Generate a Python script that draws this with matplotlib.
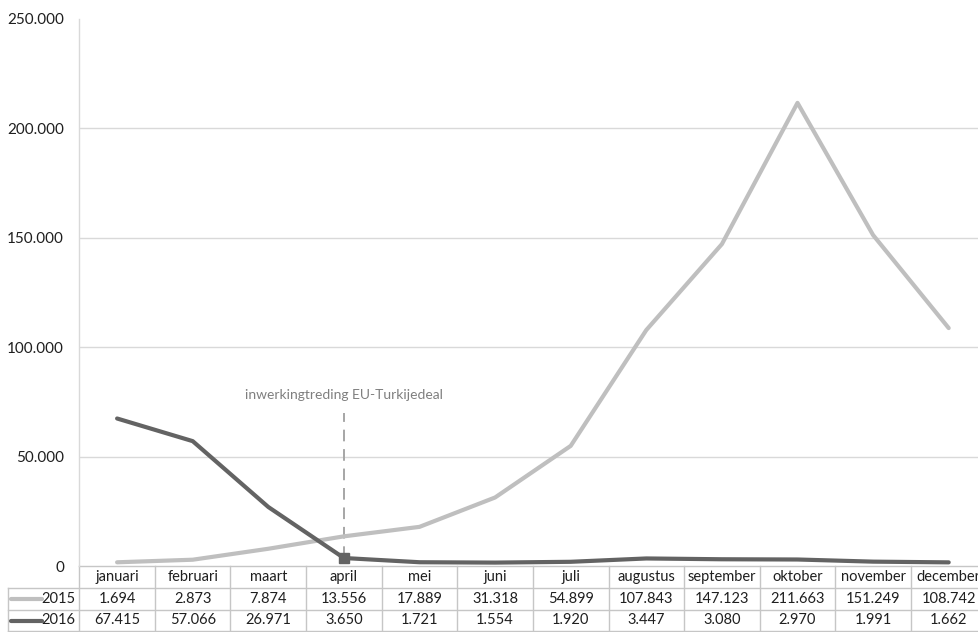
import matplotlib
matplotlib.use("Agg")
import matplotlib.pyplot as plt
import matplotlib.transforms as mtransforms
from matplotlib.ticker import FuncFormatter

plt.rcParams['font.family'] = ['Lato', 'DejaVu Sans']

# Maandelijkse aankomsten
months = ["januari", "februari", "maart", "april", "mei", "juni", "juli",
          "augustus", "september", "oktober", "november", "december"]
series_names = ["2015", "2016"]
arrivals_2015 = [1694, 2873, 7874, 13556, 17889, 31318, 54899,
                 107843, 147123, 211663, 151249, 108742]
arrivals_2016 = [67415, 57066, 26971, 3650, 1721, 1554, 1920,
                 3447, 3080, 2970, 1991, 1662]
y_ticks = [0, 50000, 100000, 150000, 200000, 250000]
deal_month = "april"
deal_label = "inwerkingtreding EU-Turkijedeal"

colors = ["#BFBFBF", "#636363"]
grid_color = "#D9D9D9"
border_color = "#C6C6C6"
text_color = "#1F1F1F"

W, H = 979, 632
fig = plt.figure(figsize=(W / 100, H / 100), dpi=100)

x_left, x_right = 79.3, 986.5
y_zero, y_top = 566, 19
ax = fig.add_axes([x_left / W, (H - y_zero) / H,
                   (x_right - x_left) / W, (y_zero - y_top) / H])

xs = list(range(len(months)))
ax.plot(xs, arrivals_2015, color=colors[0], lw=3.0, solid_joinstyle="round",
        solid_capstyle="round", zorder=3)
ax.plot(xs, arrivals_2016, color=colors[1], lw=3.0, solid_joinstyle="round",
        solid_capstyle="round", zorder=4)

# EU-Turkije deal marker
di = months.index(deal_month)
ax.plot([di], [arrivals_2016[di]], marker="s", ms=6.5, color=colors[1], zorder=5)
ax.vlines(di, arrivals_2016[di], 70000, colors="#A6A6A6", lw=1.4,
          linestyles=(0, (6, 4)), zorder=2)
ax.text(di, 78000, deal_label, ha="center", va="center", fontsize=10,
        color="#7F7F7F")

ax.set_xlim(-0.5, len(months) - 0.5)
ax.set_ylim(0, 250000)
ax.set_yticks(y_ticks)
ax.yaxis.set_major_formatter(FuncFormatter(
    lambda v, p: "0" if v == 0 else f"{int(v):,}".replace(",", ".")))
ax.tick_params(axis="y", length=0, pad=11, labelsize=11, labelcolor=text_color)
ax.set_xticks([])
for v in y_ticks[1:-1]:
    ax.axhline(v, color=grid_color, lw=1.0, zorder=1)
for s in ["top", "right", "bottom"]:
    ax.spines[s].set_visible(False)
ax.spines["left"].set_color(grid_color)
ax.spines["left"].set_linewidth(1.0)

# Gegevenstabel onder de grafiek
plot_h = y_zero - y_top
row_h = 21.8


def ya(py):
    return (y_zero - py) / plot_h


trans = mtransforms.blended_transform_factory(ax.transData, ax.transAxes)
n = len(months)
row_edges = [y_zero + k * row_h for k in range(4)]
legend_left = -0.5 - (x_left - 8) / ((x_right - x_left) / n)

lkw = dict(color=border_color, lw=1.0, transform=trans, clip_on=False)
ax.plot([-0.5, n - 0.5], [ya(row_edges[0])] * 2, **lkw)
for k in (1, 2, 3):
    ax.plot([legend_left, n - 0.5], [ya(row_edges[k])] * 2, **lkw)
for i in range(n + 1):
    ax.plot([i - 0.5, i - 0.5], [ya(row_edges[0]), ya(row_edges[3])], **lkw)
ax.plot([legend_left, legend_left], [ya(row_edges[1]), ya(row_edges[3])], **lkw)

tkw = dict(ha="center", va="center", fontsize=10.5, color=text_color,
           transform=trans, clip_on=False)
for i, m in enumerate(months):
    ax.text(i, ya(row_edges[0] + row_h / 2), m, **tkw)


def fmt(v):
    return f"{v:,}".replace(",", ".")


for r, (name, vals, c) in enumerate(zip(series_names,
                                        [arrivals_2015, arrivals_2016], colors)):
    yc = ya(row_edges[r + 1] + row_h / 2)
    for i, v in enumerate(vals):
        ax.text(i, yc, fmt(v), **tkw)
    unit = (x_right - x_left) / n
    ax.plot([legend_left + 3 / unit, legend_left + 34 / unit], [yc, yc],
            color=c, lw=3.0, transform=trans, clip_on=False,
            solid_capstyle="round")
    ax.text(-0.5 - 4 / unit, yc, name, ha="right", va="center", fontsize=10.5,
            color=text_color, transform=trans, clip_on=False)

fig.savefig("out.png", dpi=100)
